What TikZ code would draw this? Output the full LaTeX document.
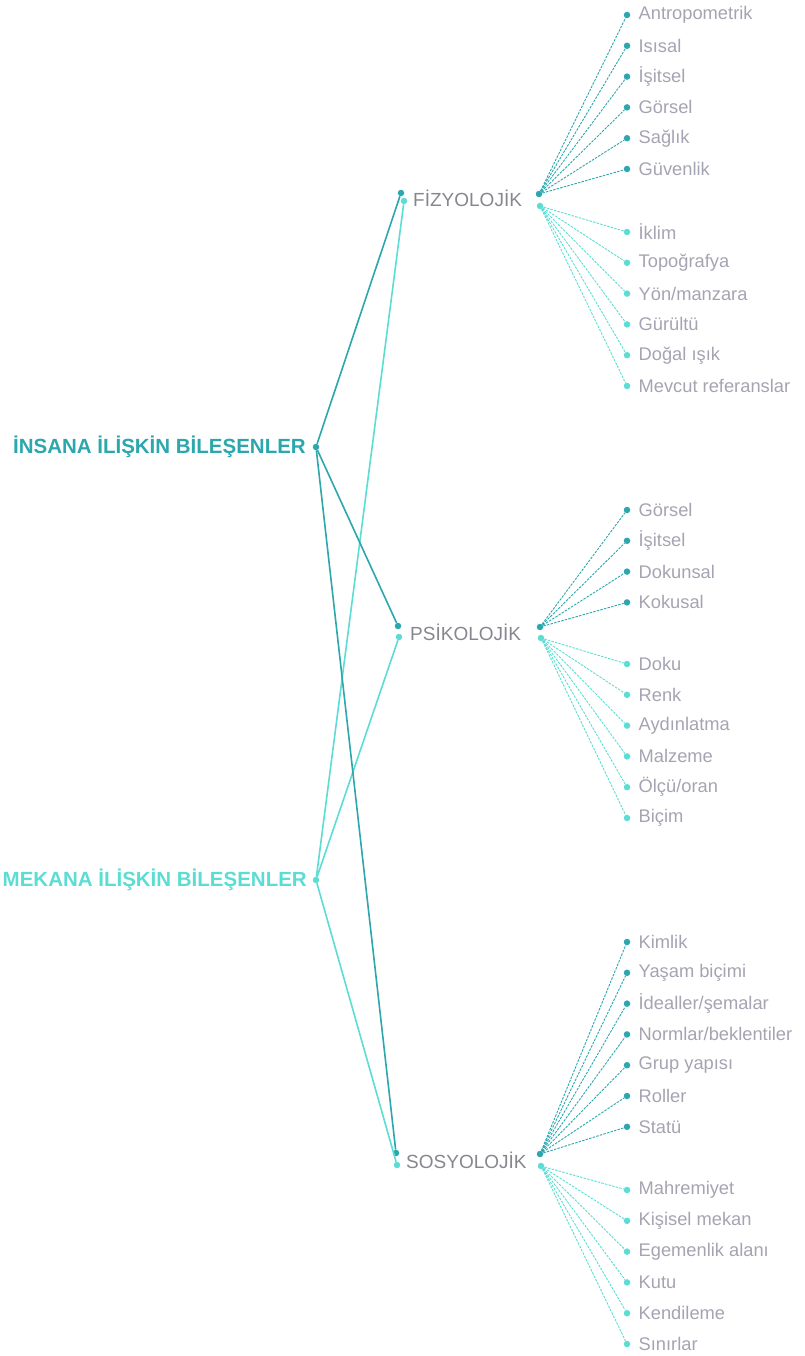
\documentclass[tikz,border=0pt]{standalone}
\usepackage{fontspec}
\setmainfont{Liberation Sans}
\usetikzlibrary{positioning}

\definecolor{koyu}{HTML}{2BA7AD}
\definecolor{acik}{HTML}{5CDDD4}
\definecolor{baslikgri}{HTML}{86868E}
\definecolor{yazigri}{HTML}{A4A4B2}

\tikzset{
  nokta/.style={circle, fill=#1, draw=none, inner sep=0pt, minimum size=6.5pt},
  ana/.style={font=\fontsize{20.5}{21}\selectfont\bfseries, anchor=east, inner sep=0pt},
  kategori/.style={font=\fontsize{19}{19}\selectfont, text=baslikgri, anchor=west, inner sep=0pt},
  yaprak/.style={font=\fontsize{18.3}{19}\selectfont, text=yazigri, anchor=west, inner sep=0pt},
  ana cizgi/.style={line width=1.6pt, draw=#1},
  dal/.style={line width=0.9pt, draw=#1, dash pattern=on 2.5pt off 1.2pt},
}

\begin{document}
\begin{tikzpicture}[x=1pt, y=-1pt]
  \useasboundingbox (0,0) rectangle (804,1356);

  % ana bilesenler
  \node[ana, text=koyu] (insana) at (306,447) {İNSANA İLİŞKİN BİLEŞENLER};
  \node[nokta=koyu] (insananokta) at (316,447) {};
  \node[ana, text=acik] (mekana) at (307,880) {MEKANA İLİŞKİN BİLEŞENLER};
  \node[nokta=acik] (mekananokta) at (316,880) {};

  % kategoriler
  \node[kategori] (fiz) at (413,198) {FİZYOLOJİK};
  \node[nokta=koyu] (fizsolk) at (401,193) {};
  \node[nokta=acik] (fizsola) at (404,201) {};
  \node[nokta=koyu] (fizsagk) at (539,194) {};
  \node[nokta=acik] (fizsaga) at (540,206) {};

  \node[kategori] (psi) at (410,632) {PSİKOLOJİK};
  \node[nokta=koyu] (psisolk) at (398,626) {};
  \node[nokta=acik] (psisola) at (399,637) {};
  \node[nokta=koyu] (psisagk) at (540,627) {};
  \node[nokta=acik] (psisaga) at (541,638) {};

  \node[kategori] (sos) at (406,1160) {SOSYOLOJİK};
  \node[nokta=koyu] (sossolk) at (396,1153) {};
  \node[nokta=acik] (sossola) at (397,1165) {};
  \node[nokta=koyu] (sossagk) at (540,1154) {};
  \node[nokta=acik] (sossaga) at (541,1166) {};

  % ana baglantilar
  \draw[ana cizgi=acik] (mekananokta) -- (fizsola);
  \draw[ana cizgi=acik] (mekananokta) -- (psisola);
  \draw[ana cizgi=acik] (mekananokta) -- (sossola);
  \draw[ana cizgi=koyu] (insananokta) -- (fizsolk);
  \draw[ana cizgi=koyu] (insananokta) -- (psisolk);
  \draw[ana cizgi=koyu] (insananokta) -- (sossolk);

  % fizyolojik
  \foreach \ad [count=\i] in {Antropometrik, Isısal, İşitsel, Görsel, Sağlık, Güvenlik} {
    \node[nokta=koyu] (fk\i) at (627,{15+30.8*(\i-1)}) {};
    \node[yaprak, right=8pt of fk\i] {\ad};
    \draw[dal=koyu] (fizsagk) -- (fk\i);
  }
  \foreach \ad [count=\i] in {İklim, Topoğrafya, Yön/manzara, Gürültü, Doğal ışık, Mevcut referanslar} {
    \node[nokta=acik] (fa\i) at (627,{232+30.8*(\i-1)}) {};
    \node[yaprak, right=8pt of fa\i] {\ad};
    \draw[dal=acik] (fizsaga) -- (fa\i);
  }

  % psikolojik
  \foreach \ad [count=\i] in {Görsel, İşitsel, Dokunsal, Kokusal} {
    \node[nokta=koyu] (pk\i) at (627,{510+30.8*(\i-1)}) {};
    \node[yaprak, right=8pt of pk\i] {\ad};
    \draw[dal=koyu] (psisagk) -- (pk\i);
  }
  \foreach \ad [count=\i] in {Doku, Renk, Aydınlatma, Malzeme, Ölçü/oran, Biçim} {
    \node[nokta=acik] (pa\i) at (627,{664+30.8*(\i-1)}) {};
    \node[yaprak, right=8pt of pa\i] {\ad};
    \draw[dal=acik] (psisaga) -- (pa\i);
  }

  % sosyolojik
  \foreach \ad [count=\i] in {Kimlik, Yaşam biçimi, İdealler/şemalar, Normlar/beklentiler, Grup yapısı, Roller, Statü} {
    \node[nokta=koyu] (sk\i) at (627,{942+30.8*(\i-1)}) {};
    \node[yaprak, right=8pt of sk\i] {\ad};
    \draw[dal=koyu] (sossagk) -- (sk\i);
  }
  \foreach \ad [count=\i] in {Mahremiyet, Kişisel mekan, Egemenlik alanı, Kutu, Kendileme, Sınırlar} {
    \node[nokta=acik] (sa\i) at (627,{1190+30.8*(\i-1)}) {};
    \node[yaprak, right=8pt of sa\i] {\ad};
    \draw[dal=acik] (sossaga) -- (sa\i);
  }
\end{tikzpicture}
\end{document}
